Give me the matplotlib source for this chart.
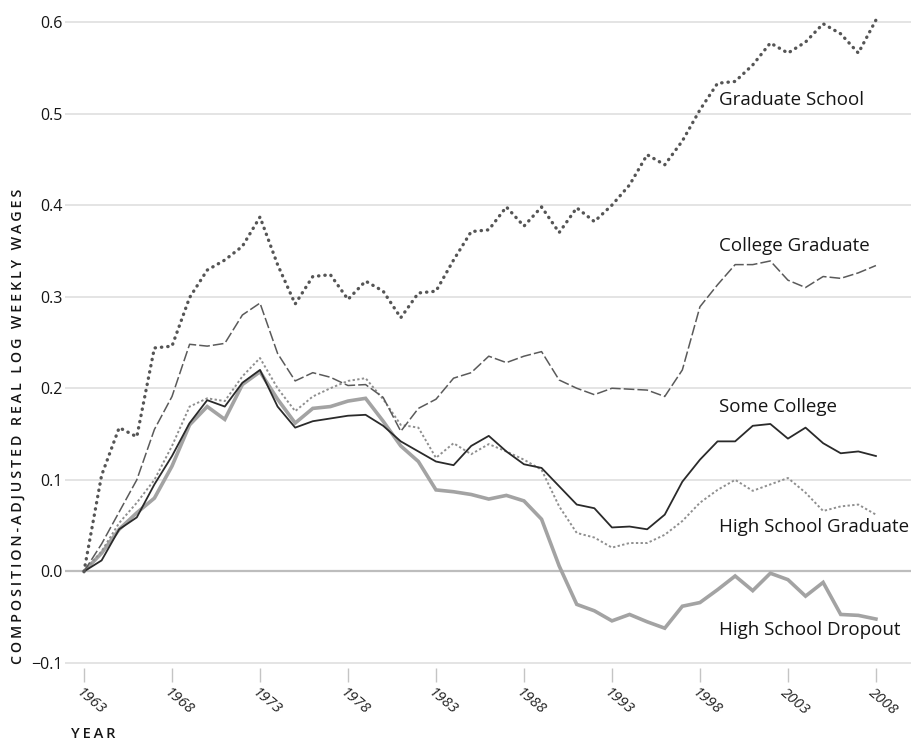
import numpy as np
import matplotlib.pyplot as plt
from matplotlib.transforms import ScaledTranslation

years = np.arange(1963, 2009)

grad_school = [0.000, 0.105, 0.157, 0.147, 0.244, 0.246, 0.299, 0.329, 0.340, 0.355,
               0.387, 0.335, 0.292, 0.322, 0.324, 0.297, 0.317, 0.306, 0.277, 0.304,
               0.306, 0.340, 0.371, 0.373, 0.398, 0.377, 0.398, 0.370, 0.397, 0.382,
               0.400, 0.422, 0.455, 0.444, 0.470, 0.504, 0.533, 0.535, 0.553, 0.577,
               0.566, 0.578, 0.598, 0.587, 0.566, 0.602]
college_grad = [0.000, 0.030, 0.065, 0.100, 0.155, 0.191, 0.248, 0.246, 0.249, 0.280,
                0.293, 0.238, 0.208, 0.217, 0.212, 0.203, 0.204, 0.190, 0.153, 0.178,
                0.188, 0.211, 0.217, 0.235, 0.228, 0.235, 0.240, 0.209, 0.200, 0.193,
                0.200, 0.199, 0.198, 0.191, 0.220, 0.289, 0.313, 0.335, 0.335, 0.339,
                0.318, 0.310, 0.322, 0.320, 0.326, 0.334]
some_college = [0.000, 0.012, 0.046, 0.059, 0.095, 0.126, 0.162, 0.187, 0.180, 0.206,
                0.220, 0.180, 0.157, 0.164, 0.167, 0.170, 0.171, 0.159, 0.142, 0.131,
                0.120, 0.116, 0.137, 0.148, 0.131, 0.117, 0.113, 0.093, 0.073, 0.069,
                0.048, 0.049, 0.046, 0.062, 0.098, 0.122, 0.142, 0.142, 0.159, 0.161,
                0.145, 0.157, 0.140, 0.129, 0.131, 0.126]
hs_grad = [0.000, 0.022, 0.053, 0.075, 0.100, 0.137, 0.180, 0.189, 0.186, 0.213,
           0.233, 0.200, 0.175, 0.191, 0.200, 0.208, 0.211, 0.188, 0.160, 0.157,
           0.124, 0.140, 0.128, 0.139, 0.131, 0.122, 0.111, 0.071, 0.042, 0.037,
           0.026, 0.031, 0.031, 0.040, 0.055, 0.075, 0.089, 0.100, 0.088, 0.095,
           0.102, 0.086, 0.066, 0.071, 0.073, 0.062]
hs_dropout = [0.000, 0.020, 0.046, 0.064, 0.080, 0.115, 0.160, 0.180, 0.166, 0.204,
              0.218, 0.188, 0.162, 0.178, 0.180, 0.186, 0.189, 0.164, 0.137, 0.120,
              0.089, 0.087, 0.084, 0.079, 0.083, 0.077, 0.057, 0.006, -0.036, -0.043,
              -0.054, -0.047, -0.055, -0.062, -0.038, -0.034, -0.020, -0.005, -0.021, -0.002,
              -0.009, -0.027, -0.012, -0.047, -0.048, -0.052]

tick_years = [1963, 1968, 1973, 1978, 1983, 1988, 1993, 1998, 2003, 2008]
y_ticks = [-0.1, 0.0, 0.1, 0.2, 0.3, 0.4, 0.5, 0.6]
y_labels = ['\u22120.1', '0.0', '0.1', '0.2', '0.3', '0.4', '0.5', '0.6']

labels = ['Graduate School', 'College Graduate', 'Some College',
          'High School Graduate', 'High School Dropout']
label_y = [0.515, 0.355, 0.179, 0.048, -0.064]

plt.rcParams['font.family'] = ['Open Sans', 'DejaVu Sans']
text_col = '#151515'

fig = plt.figure(figsize=(9.12, 7.42), dpi=100)
ax = fig.add_axes([65 / 912, 0.1003, 847 / 912, 0.8825])
ax.set_xlim(1961.92, 2010.05)
ax.set_ylim(-0.105, 0.61)

for v in y_ticks:
    if v == 0:
        ax.axhline(v, color='#bdbdbd', lw=1.6, zorder=1)
    else:
        ax.axhline(v, color='#e2e2e2', lw=1.3, zorder=1)

ax.plot(years, hs_dropout, color='#a3a3a3', lw=2.6, solid_joinstyle='miter', zorder=2)
ax.plot(years, hs_grad, color='#8f8f8f', lw=1.4, dashes=(1.2, 1.2), zorder=3)
ax.plot(years, some_college, color='#2a2a2a', lw=1.3, zorder=4)
ax.plot(years, college_grad, color='#5a5a5a', lw=1.1, dashes=(7, 2), zorder=5)
ax.plot(years, grad_school, color='#555555', lw=2.4, dashes=(0.1, 1.8),
        dash_capstyle='round', zorder=6)

for name, yv in zip(labels, label_y):
    ax.text(1999.1, yv, name, fontsize=13.5, color=text_col, ha='left', va='center',
            fontweight='medium')

for s in ax.spines.values():
    s.set_visible(False)

ax.set_yticks(y_ticks)
ax.set_yticklabels(y_labels, fontsize=11.5, color=text_col)
ax.tick_params(axis='y', length=0, pad=2)

ax.set_xticks(tick_years)
ax.set_xticklabels([str(y) for y in tick_years], fontsize=10.8, color='#222222',
                   rotation=-40, style='italic', ha='left', va='center',
                   rotation_mode='anchor')
ax.tick_params(axis='x', direction='out', length=10, width=1, color='#c4c4c4', pad=7)
shift = ScaledTranslation(-4 / 72, 0, fig.dpi_scale_trans)
for lab in ax.get_xticklabels():
    lab.set_transform(lab.get_transform() + shift)

ylab = '\u2009'.join('COMPOSITION-ADJUSTED REAL LOG WEEKLY WAGES')
fig.text(18 / 912, 0.425, ylab, rotation=90, fontsize=10.3, color=text_col,
         ha='center', va='center', fontweight='semibold')
fig.text(71 / 912, 0.02, '\u2009'.join('YEAR'), fontsize=10.5, color=text_col,
         ha='left', va='top', fontweight='semibold')

fig.savefig('out.png', dpi=100)
